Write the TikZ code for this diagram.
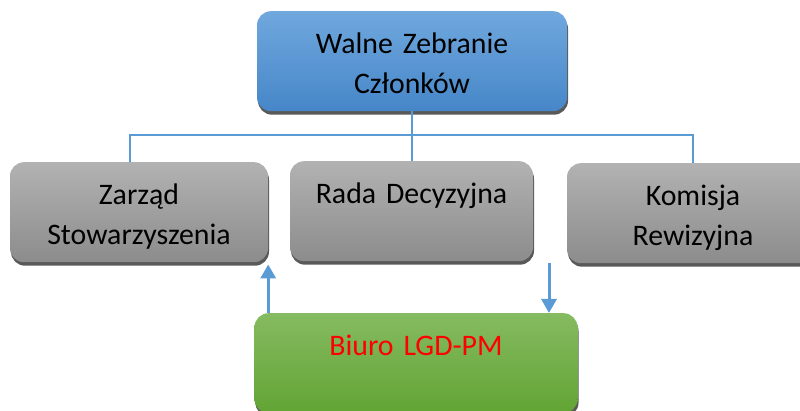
\documentclass[tikz,border=0pt]{standalone}
\usepackage{fontspec}
\setmainfont{Carlito}
\usetikzlibrary{arrows.meta,shadows}
\definecolor{lineblue}{HTML}{5B9BD5}
\begin{document}
\begin{tikzpicture}[x=1pt, y=-1pt,
  box/.style = {rounded corners=14pt, anchor=north, inner sep=0pt, align=center,
    font=\fontsize{29.8}{40}\selectfont, text height=42pt, text depth=58pt,
    drop shadow={shadow xshift=1pt, shadow yshift=-3.5pt, fill=black!65, opacity=1}},
  blue/.style = {box, top color={rgb,255:red,112;green,168;blue,222}, bottom color={rgb,255:red,70;green,134;blue,200}},
  grey/.style = {box, top color={rgb,255:red,178;green,178;blue,178}, bottom color={rgb,255:red,140;green,140;blue,140}},
  green/.style = {box, top color={rgb,255:red,134;green,187;blue,97}, bottom color={rgb,255:red,98;green,164;blue,52}, text=red},
  line/.style = {draw=lineblue, line width=1.2pt},
  arr/.style = {draw=lineblue, line width=3pt, -{Triangle[width=15pt,length=14pt]}}]
\useasboundingbox (0,0) rectangle (800,411);
\node[blue, text width=310pt] (walne) at (412,11) {Walne Zebranie\\Członków};
\node[grey, text width=258pt] (zarzad) at (139,162) {Zarząd\\Stowarzyszenia};
\node[grey, text width=243pt] (rada) at (411.5,161) {Rada Decyzyjna};
\node[grey, text width=252pt] (komisja) at (693,163) {Komisja\\Rewizyjna};
\node[green, text width=323pt] (biuro) at (416,313) {Biuro LGD-PM};
\coordinate (bus) at (411,135);
\coordinate (src) at (549,263);
\draw[line] (walne.south) -- (walne.south |- rada.north);
\draw[line] ([xshift=-9pt]zarzad.north) |- (bus) -| (komisja.north);
\draw[arr] (zarzad.south east |- biuro.north) -- ([yshift=-2pt]zarzad.south east);
\draw[arr] (src) -- (src |- biuro.north);
\end{tikzpicture}
\end{document}
